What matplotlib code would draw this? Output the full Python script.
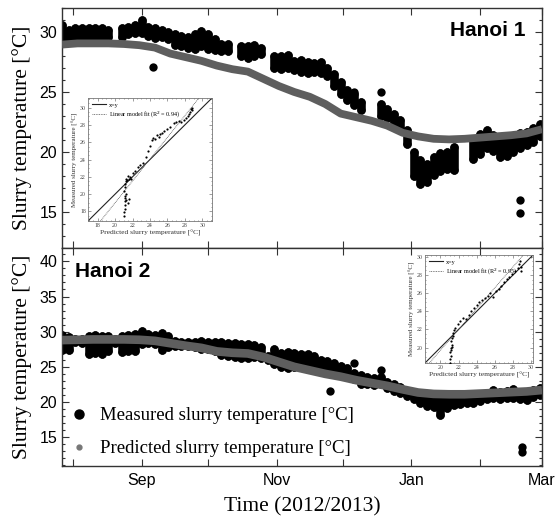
import numpy as np
import matplotlib
matplotlib.use("Agg")
import matplotlib.pyplot as plt
import matplotlib.dates as mdates
from matplotlib.lines import Line2D
from matplotlib.ticker import MultipleLocator, FixedLocator

nan = np.nan
base_date = np.datetime64('2012-08-01')

# ---------------- data ----------------
# measured: days after 2012-08-01, low / high of the dot cloud
meas_days = [-5, -2, 1, 4, 7, 10, 13, 16, 19, 22, 25, 28, 31, 34, 37, 40, 43, 46, 49, 52,
             55, 58, 61, 64, 67, 70, 73, 76, 79, 82, 85, 88, 91, 94, 97, 100, 103, 106, 109, 112,
             115, 118, 121, 124, 127, 130, 133, 136, 139, 142, 145, 148, 151, 154, 157, 160, 163, 166, 169, 172,
             175, 178, 181, 184, 187, 190, 193, 196, 199, 202, 205, 208, 211]

h1_meas_lo = [29.4, 29.5, 29.4, 29.5, 29.5, 29.6, 29.5, 29.6, nan, 29.6, 29.8, 29.9, 29.9, 29.7, 29.5, 29.6, 29.4, 28.9, 28.8, 28.7,
              28.6, 28.8, 28.6, 28.5, 28.4, 28.4, nan, 28.0, 27.8, 28.0, 28.2, nan, 27.0, 26.9, 27.0, 26.8, 26.7, 26.6, 26.7, 26.6,
              26.3, 25.5, 24.8, 24.3, 23.9, 23.5, nan, nan, 23.0, 22.8, 22.5, 21.9, 20.7, 18.0, 17.3, 17.5, 18.1, 18.4, 18.6, 18.5,
              nan, nan, 19.4, 19.8, 20.3, 20.1, 19.6, 19.7, 20.0, 20.3, 20.6, 20.8, 21.3]
h1_meas_hi = [30.6, 30.2, 30.3, 30.3, 30.3, 30.3, 30.3, 30.2, nan, 30.3, 30.4, 30.6, 31.0, 30.4, 30.3, 30.2, 30.0, 29.8, 29.7, 29.6,
              29.8, 30.1, 29.8, 29.4, 29.0, 29.0, nan, 28.8, 28.8, 28.9, 28.7, nan, 28.0, 28.0, 28.1, 27.6, 27.7, 27.5, 27.4, 27.5,
              27.0, 26.5, 25.8, 25.2, 24.8, 24.2, nan, nan, 24.0, 23.6, 23.2, 22.7, 21.8, 20.0, 19.3, 19.0, 19.6, 19.9, 20.0, 20.4,
              nan, nan, 21.0, 21.5, 21.8, 21.4, 21.0, 21.0, 21.2, 21.6, 21.7, 22.0, 22.3]
h1_out_days = [36, 127, 139, 202, 202]
h1_out_vals = [27.05, 25.0, 25.0, 16.0, 14.9]

h2_meas_lo = [27.4, 27.4, 28.5, 28.4, 26.8, 27.0, 26.8, 27.2, 28.4, 27.1, 27.3, 27.3, 28.3, 28.4, 28.2, 27.4, 27.8, 27.9, 28.0, 27.9,
              27.8, 27.6, 27.5, 27.3, 26.7, 26.5, 26.4, 26.3, 26.2, 26.4, 26.2, 26.0, 25.4, 25.0, 24.9, 25.0, 25.5, 25.4, 25.2, 25.0,
              24.5, 24.0, 23.8, 23.6, 23.3, 22.6, 22.5, 22.4, 22.5, 22.0, 21.6, 21.3, 20.8, 20.4, 19.8, 19.5, 19.3, 18.2, 19.2, 19.6,
              19.7, 19.8, 19.9, 20.1, 20.4, 20.5, 20.4, 20.5, 20.5, 20.4, 20.3, 20.7, 21.0]
h2_meas_hi = [29.5, 29.3, 29.0, 29.0, 29.4, 29.5, 29.4, 29.4, 29.0, 29.4, 29.5, 29.6, 30.1, 29.6, 29.5, 29.8, 29.4, 28.7, 28.6, 28.6,
              28.5, 28.7, 28.6, 28.5, 28.6, 28.4, 28.4, 28.2, 28.2, 28.1, 27.8, 26.6, 27.5, 27.0, 27.1, 27.0, 26.8, 26.8, 26.6, 26.0,
              25.8, 25.5, 25.1, 24.8, 24.1, 23.8, 23.6, 23.4, 23.6, 22.8, 22.5, 22.2, 21.5, 21.0, 20.8, 20.7, 20.7, 20.6, 20.6, 20.6,
              20.7, 20.7, 20.8, 20.9, 21.1, 21.7, 21.4, 21.5, 21.9, 21.4, 21.3, 21.7, 22.0]
h2_out_days = [116, 127, 139, 203, 203]
h2_out_vals = [21.5, 25.5, 24.5, 13.6, 12.9]

pred_days = [-5, 2, 9, 16, 23, 30, 37, 44, 51, 58, 65, 72, 79, 86, 93, 100, 107, 114, 121, 128,
             135, 142, 149, 156, 163, 170, 177, 184, 191, 198, 205, 212]
h1_pred = [28.95, 29.05, 29.05, 29.05, 29.0, 28.9, 28.7, 28.2, 27.9, 27.6, 27.2, 26.9, 26.7, 26.1, 25.5, 25.0, 24.6, 24.0, 23.2, 22.9,
           22.6, 22.2, 21.6, 21.3, 21.1, 21.05, 21.1, 21.2, 21.3, 21.4, 21.55, 21.9]
h2_pred = [28.8, 28.85, 28.9, 28.9, 28.9, 28.85, 28.7, 28.35, 28.0, 27.7, 27.2, 27.0, 26.9, 26.4, 25.7, 25.0, 24.5, 24.0, 23.6, 23.1,
           22.7, 22.3, 21.8, 21.35, 21.15, 21.1, 21.1, 21.2, 21.3, 21.4, 21.5, 21.7]

# inset scatter (predicted vs measured)
ins1_pred = [21.0, 21.05, 21.1, 21.1, 21.15, 21.1, 21.2, 21.0, 21.1, 21.15, 21.2, 21.3, 21.1, 21.2, 21.5, 21.6, 21.4, 21.6, 21.7, 21.8,
             21.5, 22.0, 22.3, 22.6, 22.9, 23.2, 23.5, 23.8, 24.0, 24.2, 24.4, 24.6, 24.8, 25.0, 25.2, 25.4, 25.6, 25.9, 26.3, 26.7,
             27.0, 27.3, 27.6, 27.9, 28.1, 28.3, 28.5, 28.6, 28.7, 28.8, 28.8]
ins1_meas = [17.5, 17.9, 18.3, 18.8, 19.2, 19.6, 20.0, 20.4, 20.8, 21.2, 21.5, 21.8, 19.8, 19.3, 19.0, 19.4, 21.6, 21.8, 22.0, 21.7,
             22.1, 22.4, 22.7, 23.1, 23.4, 23.6, 24.3, 25.0, 25.6, 26.2, 26.5, 26.4, 26.8, 26.6, 26.9, 27.1, 27.3, 27.5, 27.7, 28.2,
             28.3, 28.4, 28.3, 28.6, 28.8, 29.0, 29.3, 29.5, 29.8, 30.0, 29.7]
ins2_pred = [21.1, 21.1, 21.15, 21.1, 21.2, 21.25, 21.2, 21.3, 21.35, 21.4, 21.3, 21.2, 21.5, 21.6, 21.9, 22.2, 22.5, 22.8, 23.1, 23.4,
             23.7, 24.0, 24.3, 24.6, 24.9, 25.2, 25.5, 25.8, 26.1, 26.4, 26.7, 27.0, 27.3, 27.6, 27.9, 28.2, 28.5, 28.7, 28.8, 28.9, 28.9]
ins2_meas = [18.3, 18.7, 19.1, 19.5, 19.9, 20.3, 20.7, 21.0, 21.3, 21.6, 20.1, 19.7, 21.9, 22.2, 22.6, 22.9, 23.3, 23.1, 23.6, 24.0,
             24.4, 24.7, 25.0, 25.2, 25.5, 25.7, 26.0, 25.6, 26.2, 26.4, 26.8, 27.2, 27.6, 27.8, 28.1, 28.4, 28.8, 29.2, 29.5, 28.4, 28.9]
fit1 = (1.26, -6.2)
fit2 = (1.15, -3.3)
r2_1 = 0.94
r2_2 = 0.95

month_ticks = ['2012-08-01', '2012-09-01', '2012-10-01', '2012-11-01', '2012-12-01', '2013-01-01', '2013-02-01', '2013-03-01']
month_labels = ['', 'Sep', '', 'Nov', '', 'Jan', '', 'Mar']

# ---------------- style ----------------
SERIF = ['Liberation Serif', 'DejaVu Serif']
SANS = ['Liberation Sans', 'DejaVu Sans']
plt.rcParams['font.family'] = SANS

W, H = 556, 523
fig = plt.figure(figsize=(W / 100, H / 100), dpi=100)

def fr(x0, y0, x1, y1):
    return [x0 / W, 1 - y1 / H, (x1 - x0) / W, (y1 - y0) / H]

ax1 = fig.add_axes(fr(62, 8, 542, 248))
ax2 = fig.add_axes(fr(62, 248, 542, 466))

def todates(days):
    return base_date + np.array(days, dtype=int).astype('timedelta64[D]')

grey = '#5e5e5e'
for ax, lo, hi, od, ov, pred, glw in [(ax1, h1_meas_lo, h1_meas_hi, h1_out_days, h1_out_vals, h1_pred, 5.6),
                                      (ax2, h2_meas_lo, h2_meas_hi, h2_out_days, h2_out_vals, h2_pred, 6.2)]:
    d = todates(meas_days)
    lo_a = np.array(lo, float)
    hi_a = np.array(hi, float)
    ok = ~np.isnan(lo_a)
    vl = ax.vlines(d[ok], lo_a[ok], hi_a[ok], colors='black', linewidth=6.2, zorder=2)
    vl.set_capstyle('round')
    ax.scatter(d[ok], lo_a[ok], s=36, color='black', zorder=2, linewidths=0)
    ax.scatter(d[ok], hi_a[ok], s=36, color='black', zorder=2, linewidths=0)
    ax.scatter(todates(od), ov, s=36, color='black', zorder=2, linewidths=0)
    ax.plot(todates(pred_days), pred, color=grey, linewidth=glw, solid_capstyle='butt', zorder=3)

    ax.set_xlim(np.datetime64('2012-07-27'), np.datetime64('2013-03-01'))
    ax.xaxis.set_major_locator(FixedLocator(mdates.date2num(np.array(month_ticks, dtype='datetime64[D]'))))
    ax.tick_params(which='both', direction='in', top=True, right=True, labelsize=11.5, width=0.8, color='#333333')
    ax.tick_params(which='major', length=5)
    ax.tick_params(which='minor', length=2.5)
    ax.yaxis.set_minor_locator(MultipleLocator(1))
    for s in ax.spines.values():
        s.set_linewidth(1.0)
        s.set_color('#333333')
    ax.set_ylabel('Slurry temperature [°C]', family=SERIF, fontsize=15.5)
    ax.yaxis.set_label_coords(-0.062, 0.5)

ax1.set_ylim(12, 32)
ax1.set_yticks([15, 20, 25, 30])
ax1.set_xticklabels([])
ax2.set_ylim(10.9, 41.9)
ax2.set_yticks([15, 20, 25, 30, 35, 40])
ax2.set_xticklabels(month_labels)
ax2.tick_params(axis='x', pad=5)
ax2.set_xlabel('Time (2012/2013)', family=SERIF, fontsize=15.5, labelpad=7)

ax1.text(0.965, 0.905, 'Hanoi 1', transform=ax1.transAxes, ha='right', va='center',
         fontsize=15, fontweight='bold')
ax2.text(0.027, 0.89, 'Hanoi 2', transform=ax2.transAxes, ha='left', va='center',
         fontsize=15, fontweight='bold')

handles = [Line2D([], [], marker='o', color='black', linestyle='none', markersize=6.5),
           Line2D([], [], marker='o', color='#777777', linestyle='none', markersize=3.5)]
leg = ax2.legend(handles, ['Measured slurry temperature [°C]', 'Predicted slurry temperature [°C]'],
                 loc='lower left', bbox_to_anchor=(-0.015, -0.02), frameon=False,
                 prop={'family': SERIF, 'size': 13.5}, labelspacing=0.85, handletextpad=0.5,
                 handlelength=1.2, borderaxespad=0.3)

# ---------------- insets ----------------
def inset(rect, pred, meas, fit, r2, lim, ticks):
    ia = fig.add_axes(rect)
    ia.scatter(pred, meas, s=2.5, color='black', linewidths=0, zorder=3)
    xx = np.array(lim)
    ia.plot(xx, xx, color='#222222', linewidth=0.8, label='x=y')
    ia.plot(xx, fit[0] * xx + fit[1], color='#555555', linewidth=0.6, linestyle=(0, (1, 1)),
            label='Linear model fit (R$^2$ = %.2f)' % r2)
    ia.set_xlim(lim)
    ia.set_ylim(lim)
    ia.set_xticks(ticks)
    ia.set_yticks(ticks)
    ia.xaxis.set_minor_locator(MultipleLocator(0.5))
    ia.yaxis.set_minor_locator(MultipleLocator(0.5))
    ia.tick_params(which='both', direction='in', top=True, right=True, labelsize=4.2, pad=1.5,
                   width=0.4, color='#555555', labelcolor='#444444')
    ia.tick_params(which='major', length=2)
    ia.tick_params(which='minor', length=1)
    for lab in ia.get_xticklabels() + ia.get_yticklabels():
        lab.set_family(SERIF)
    for s in ia.spines.values():
        s.set_linewidth(0.6)
        s.set_color('#777777')
    ia.set_xlabel('Predicted slurry temperature [°C]', family=SERIF, fontsize=5.4, labelpad=1.5, color='#333333')
    ia.set_ylabel('Measured slurry temperature [°C]', family=SERIF, fontsize=5.0, labelpad=1.5, color='#333333')
    ia.legend(loc='upper left', frameon=False, prop={'family': SERIF, 'size': 4.4},
              handlelength=2.2, labelspacing=0.3, borderaxespad=0.3, handletextpad=0.6)
    return ia

inset(fr(88, 98, 212, 221), ins1_pred, ins1_meas, fit1, r2_1, (16.9, 31.1), [18, 20, 22, 24, 26, 28, 30])
inset(fr(425, 255, 533, 363), ins2_pred, ins2_meas, fit2, r2_2, (18.3, 30.2), [20, 22, 24, 26, 28, 30])

fig.savefig('out.png', dpi=100)
